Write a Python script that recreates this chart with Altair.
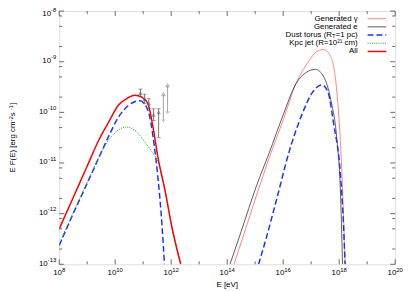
import altair as alt
import pandas as pd

# ---- values (log10 of E [eV], log10 of E F(E)) ----
gam_x = [14.24, 14.6, 15.04, 15.5, 16.0, 16.45, 16.9, 17.2, 17.45, 17.7, 17.9, 18.04, 18.14, 18.21]
gam_y = [-13.0, -12.4, -11.65, -10.9, -10.15, -9.44, -9.0, -8.8, -8.76, -8.9, -9.5, -10.55, -11.8, -13.0]

ele_x = [14.1, 14.5, 15.04, 15.5, 16.0, 16.45, 16.8, 17.15, 17.45, 17.7, 17.92, 18.04, 18.12]
ele_y = [-13.0, -12.35, -11.46, -10.8, -10.05, -9.44, -9.22, -9.15, -9.3, -9.75, -10.55, -11.5, -13.0]

torus_lo_x = [8.0, 8.5, 9.0, 9.41, 9.76, 10.11, 10.46, 10.88, 11.17, 11.4, 11.52, 11.64, 11.76]
torus_lo_y = [-12.63, -12.0, -11.4, -10.9, -10.48, -10.10, -9.87, -9.77, -9.96, -10.68, -11.26, -12.0, -13.0]
torus_hi_x = [15.12, 15.39, 15.75, 16.2, 16.7, 17.05, 17.39, 17.6, 17.8, 18.04, 18.15, 18.21]
torus_hi_y = [-13.0, -12.49, -11.75, -10.8, -10.0, -9.6, -9.46, -9.6, -10.22, -11.2, -12.17, -13.0]

jet_x = [8.0, 8.5, 9.0, 9.41, 9.76, 10.11, 10.4, 10.75, 11.05, 11.35, 11.52, 11.8, 12.0, 12.34]
jet_y = [-12.6, -11.98, -11.38, -10.9, -10.55, -10.35, -10.29, -10.38, -10.58, -10.81, -10.96, -11.6, -12.2, -13.0]

all_x = [8.0, 8.5, 9.0, 9.41, 9.76, 10.11, 10.46, 10.7, 10.95, 11.17, 11.35, 11.52, 11.8, 12.0, 12.34]
all_y = [-12.3, -11.68, -11.06, -10.55, -10.2, -9.86, -9.71, -9.66, -9.7, -9.83, -10.29, -10.87, -11.6, -12.2, -13.0]

# measured points with error bars
pt_x = [10.90, 11.05, 11.20, 11.37, 11.55]
pt_y = [-9.62, -9.74, -9.83, -10.05, -10.0]
pt_lo = [-9.69, -9.83, -9.92, -10.16, -10.50]
pt_hi = [-9.54, -9.64, -9.73, -9.93, -9.93]

# limit arrows
ar_x = [11.72, 11.87]
ar_lo = [-10.16, -10.0]
ar_hi = [-9.64, -9.465]

x_ticks_major = [8, 10, 12, 14, 16, 18, 20]
x_ticks_minor = [9, 11, 13, 15, 17, 19]
y_ticks_major = [-13, -12, -11, -10, -9, -8]
y_minor_mult = [2, 5, 8]

legend_labels = ["Generated \u03b3", "Generated e", "Dust torus (R", "Kpc jet (R=10\u00b2\u00b9 cm)", "All"]
torus_sub = "T"
torus_tail = "=1 pc)"

x_title = "E [eV]"
y_title_parts = ["E F(E) [erg cm", "-2", " s", "-1", "]"]

W, H = 341, 257
FONT = "Liberation Sans"
BIG, SMALL = 8, 6
DIGIT, HYPH = 0.556, 0.333  # Arial advance widths (em)

xscale = alt.Scale(type="log", domain=[1e8, 1e20])
yscale = alt.Scale(type="log", domain=[1e-13, 1e-8])


def X(field="x"):
    return alt.X(field + ":Q", scale=xscale, axis=None)


def Y(field="y"):
    return alt.Y(field + ":Q", scale=yscale, axis=None)


def curve(xs, ys):
    return pd.DataFrame({"x": [10.0 ** v for v in xs], "y": [10.0 ** v for v in ys], "i": list(range(len(xs)))})


def line(df, color, width, dash=None):
    kw = dict(color=color, strokeWidth=width, clip=True, interpolate="monotone")
    if dash:
        kw["strokeDash"] = dash
    return alt.Chart(df).mark_line(**kw).encode(x=X(), y=Y(), order="i:Q")


def ew(s):
    return sum((HYPH if c == "-" else DIGIT) * SMALL for c in s)


styles = [
    ("#ff6666", 0.8, None),
    ("#333333", 0.8, None),
    ("#1a33ff", 1.5, [6, 3]),
    ("#219a21", 1.0, [1, 1.2]),
    ("#ff0000", 1.5, None),
]

layers = []
layers.append(line(curve(gam_x, gam_y), *styles[0]))
layers.append(line(curve(ele_x, ele_y), *styles[1]))
layers.append(line(curve(torus_lo_x, torus_lo_y), *styles[2]))
layers.append(line(curve(torus_hi_x, torus_hi_y), *styles[2]))
layers.append(line(curve(jet_x, jet_y), *styles[3]))
layers.append(line(curve(all_x, all_y), *styles[4]))

# error bars
pts = pd.DataFrame({"x": [10.0 ** v for v in pt_x], "y": [10.0 ** v for v in pt_y],
                    "lo": [10.0 ** v for v in pt_lo], "hi": [10.0 ** v for v in pt_hi]})
layers.append(alt.Chart(pts).mark_rule(color="#555555", strokeWidth=0.8).encode(x=X(), y=Y("lo"), y2="hi:Q"))
layers.append(alt.Chart(pts).mark_tick(color="#555555", orient="horizontal", size=4, thickness=0.8).encode(x=X(), y=Y("lo")))
layers.append(alt.Chart(pts).mark_tick(color="#555555", orient="horizontal", size=4, thickness=0.8).encode(x=X(), y=Y("hi")))
layers.append(alt.Chart(pts).mark_point(shape="triangle-up", color="#555555", filled=False, size=10, strokeWidth=0.8).encode(x=X(), y=Y()))

arr = pd.DataFrame({"x": [10.0 ** v for v in ar_x], "lo": [10.0 ** v for v in ar_lo], "hi": [10.0 ** v for v in ar_hi]})
layers.append(alt.Chart(arr).mark_rule(color="#999999", strokeWidth=0.9).encode(x=X(), y=Y("lo"), y2="hi:Q"))
layers.append(alt.Chart(arr).mark_point(shape="triangle-up", color="#888888", filled=False, size=14, strokeWidth=0.9).encode(x=X(), y=Y("hi")))
layers.append(alt.Chart(arr).mark_point(shape="M-1,-0.6L0,0.6L1,-0.6", color="#888888", filled=False, size=14, strokeWidth=0.9).encode(x=X(), y=Y("lo")))

# inward ticks (gnuplot style, mirrored)
xmaj = pd.DataFrame({"x": [10.0 ** v for v in x_ticks_major]})
xmin = pd.DataFrame({"x": [10.0 ** v for v in x_ticks_minor]})
ymaj = pd.DataFrame({"y": [10.0 ** v for v in y_ticks_major]})
ymin = pd.DataFrame({"y": [m * 10.0 ** v for v in y_ticks_major[:-1] for m in y_minor_mult]})
tk = dict(color="#444444", strokeWidth=0.8)
for d, L in ((xmaj, 5), (xmin, 3)):
    layers.append(alt.Chart(d).mark_rule(**tk).encode(x=X(), y=alt.value(H), y2=alt.value(H - L)))
    layers.append(alt.Chart(d).mark_rule(**tk).encode(x=X(), y=alt.value(0), y2=alt.value(L)))
for d, L in ((ymaj, 5), (ymin, 3)):
    layers.append(alt.Chart(d).mark_rule(**tk).encode(y=Y(), x=alt.value(0), x2=alt.value(L)))
    layers.append(alt.Chart(d).mark_rule(**tk).encode(y=Y(), x=alt.value(W), x2=alt.value(W - L)))


def text_layer(txt, size, align, enc, dx=0, dy=0, angle=0, baseline="middle"):
    d = pd.DataFrame({"t": [txt]})
    return alt.Chart(d).mark_text(align=align, baseline=baseline, font=FONT, fontSize=size, color="black",
                                  dx=dx, dy=dy, angle=angle).encode(text="t:N", **enc)


# x tick labels: "10" + raised exponent, centred on the tick
for e in x_ticks_major:
    s = str(e)
    w = ew(s)
    d1 = (BIG * 2 * DIGIT + w) / 2 - w
    enc = dict(x=alt.X("v:Q", scale=xscale, axis=None))
    dd = pd.DataFrame({"v": [10.0 ** e], "a": ["10"], "b": [s]})
    layers.append(alt.Chart(dd).mark_text(align="right", baseline="middle", font=FONT, fontSize=BIG, color="black", dx=d1)
                  .encode(text="a:N", y=alt.value(H + 9), **enc))
    layers.append(alt.Chart(dd).mark_text(align="left", baseline="middle", font=FONT, fontSize=SMALL, color="black", dx=d1)
                  .encode(text="b:N", y=alt.value(H + 5.6), **enc))

# y tick labels: right-aligned, exponent raised
for e in y_ticks_major:
    s = str(e)
    w = ew(s)
    shift = 3.5 if e == y_ticks_major[-1] else 0
    enc = dict(y=alt.Y("v:Q", scale=yscale, axis=None))
    dd = pd.DataFrame({"v": [10.0 ** e], "a": ["10"], "b": [s]})
    layers.append(alt.Chart(dd).mark_text(align="right", baseline="middle", font=FONT, fontSize=BIG, color="black", dy=-0.5 + shift)
                  .encode(text="a:N", x=alt.value(-3 - w), **enc))
    layers.append(alt.Chart(dd).mark_text(align="right", baseline="middle", font=FONT, fontSize=SMALL, color="black", dy=-4.5 + shift)
                  .encode(text="b:N", x=alt.value(-3), **enc))

# axis titles
layers.append(text_layer(x_title, BIG, "center", dict(x=alt.value(W / 2), y=alt.value(H + 21))))
widths = [52.0, ew("-2"), 6.22, ew("-1"), 2.22]
ypos = H / 2 + sum(widths) / 2
for part, w, sup in zip(y_title_parts, widths, [False, True, False, True, False]):
    layers.append(text_layer(part, SMALL if sup else BIG, "left",
                             dict(x=alt.value(-46.5 - (2.6 if sup else 0)), y=alt.value(ypos)), angle=270))
    ypos -= w

# legend (gnuplot style: right-aligned text followed by a line sample)
row_y = [7.7, 16.0, 24.3, 32.6, 41.0]
for k, (lab, (col, wd, dash), ry) in enumerate(zip(legend_labels, styles, row_y)):
    if k == 2:
        tail_w = 22.5
        sub_w = 0.611 * SMALL
        layers.append(text_layer(torus_tail, BIG, "right", dict(x=alt.value(303), y=alt.value(ry))))
        layers.append(text_layer(torus_sub, SMALL, "right", dict(x=alt.value(303 - tail_w), y=alt.value(ry + 1.5))))
        layers.append(text_layer(lab, BIG, "right", dict(x=alt.value(303 - tail_w - sub_w), y=alt.value(ry))))
    else:
        layers.append(text_layer(lab, BIG, "right", dict(x=alt.value(303), y=alt.value(ry))))
    kw = dict(color=col, strokeWidth=wd)
    if dash:
        kw["strokeDash"] = dash
    layers.append(alt.Chart(pd.DataFrame({"t": [lab]})).mark_rule(**kw)
                  .encode(x=alt.value(313), x2=alt.value(332), y=alt.value(ry)))

chart = alt.layer(*layers).properties(
    width=W, height=H,
    padding={"left": 52, "top": 1, "right": 12, "bottom": 25},
    autosize=alt.AutoSizeParams(type="none"),
).configure_view(stroke="black", strokeWidth=1).configure(background="white")

chart.save("out.html", embed_options={"renderer": "svg", "actions": False})
